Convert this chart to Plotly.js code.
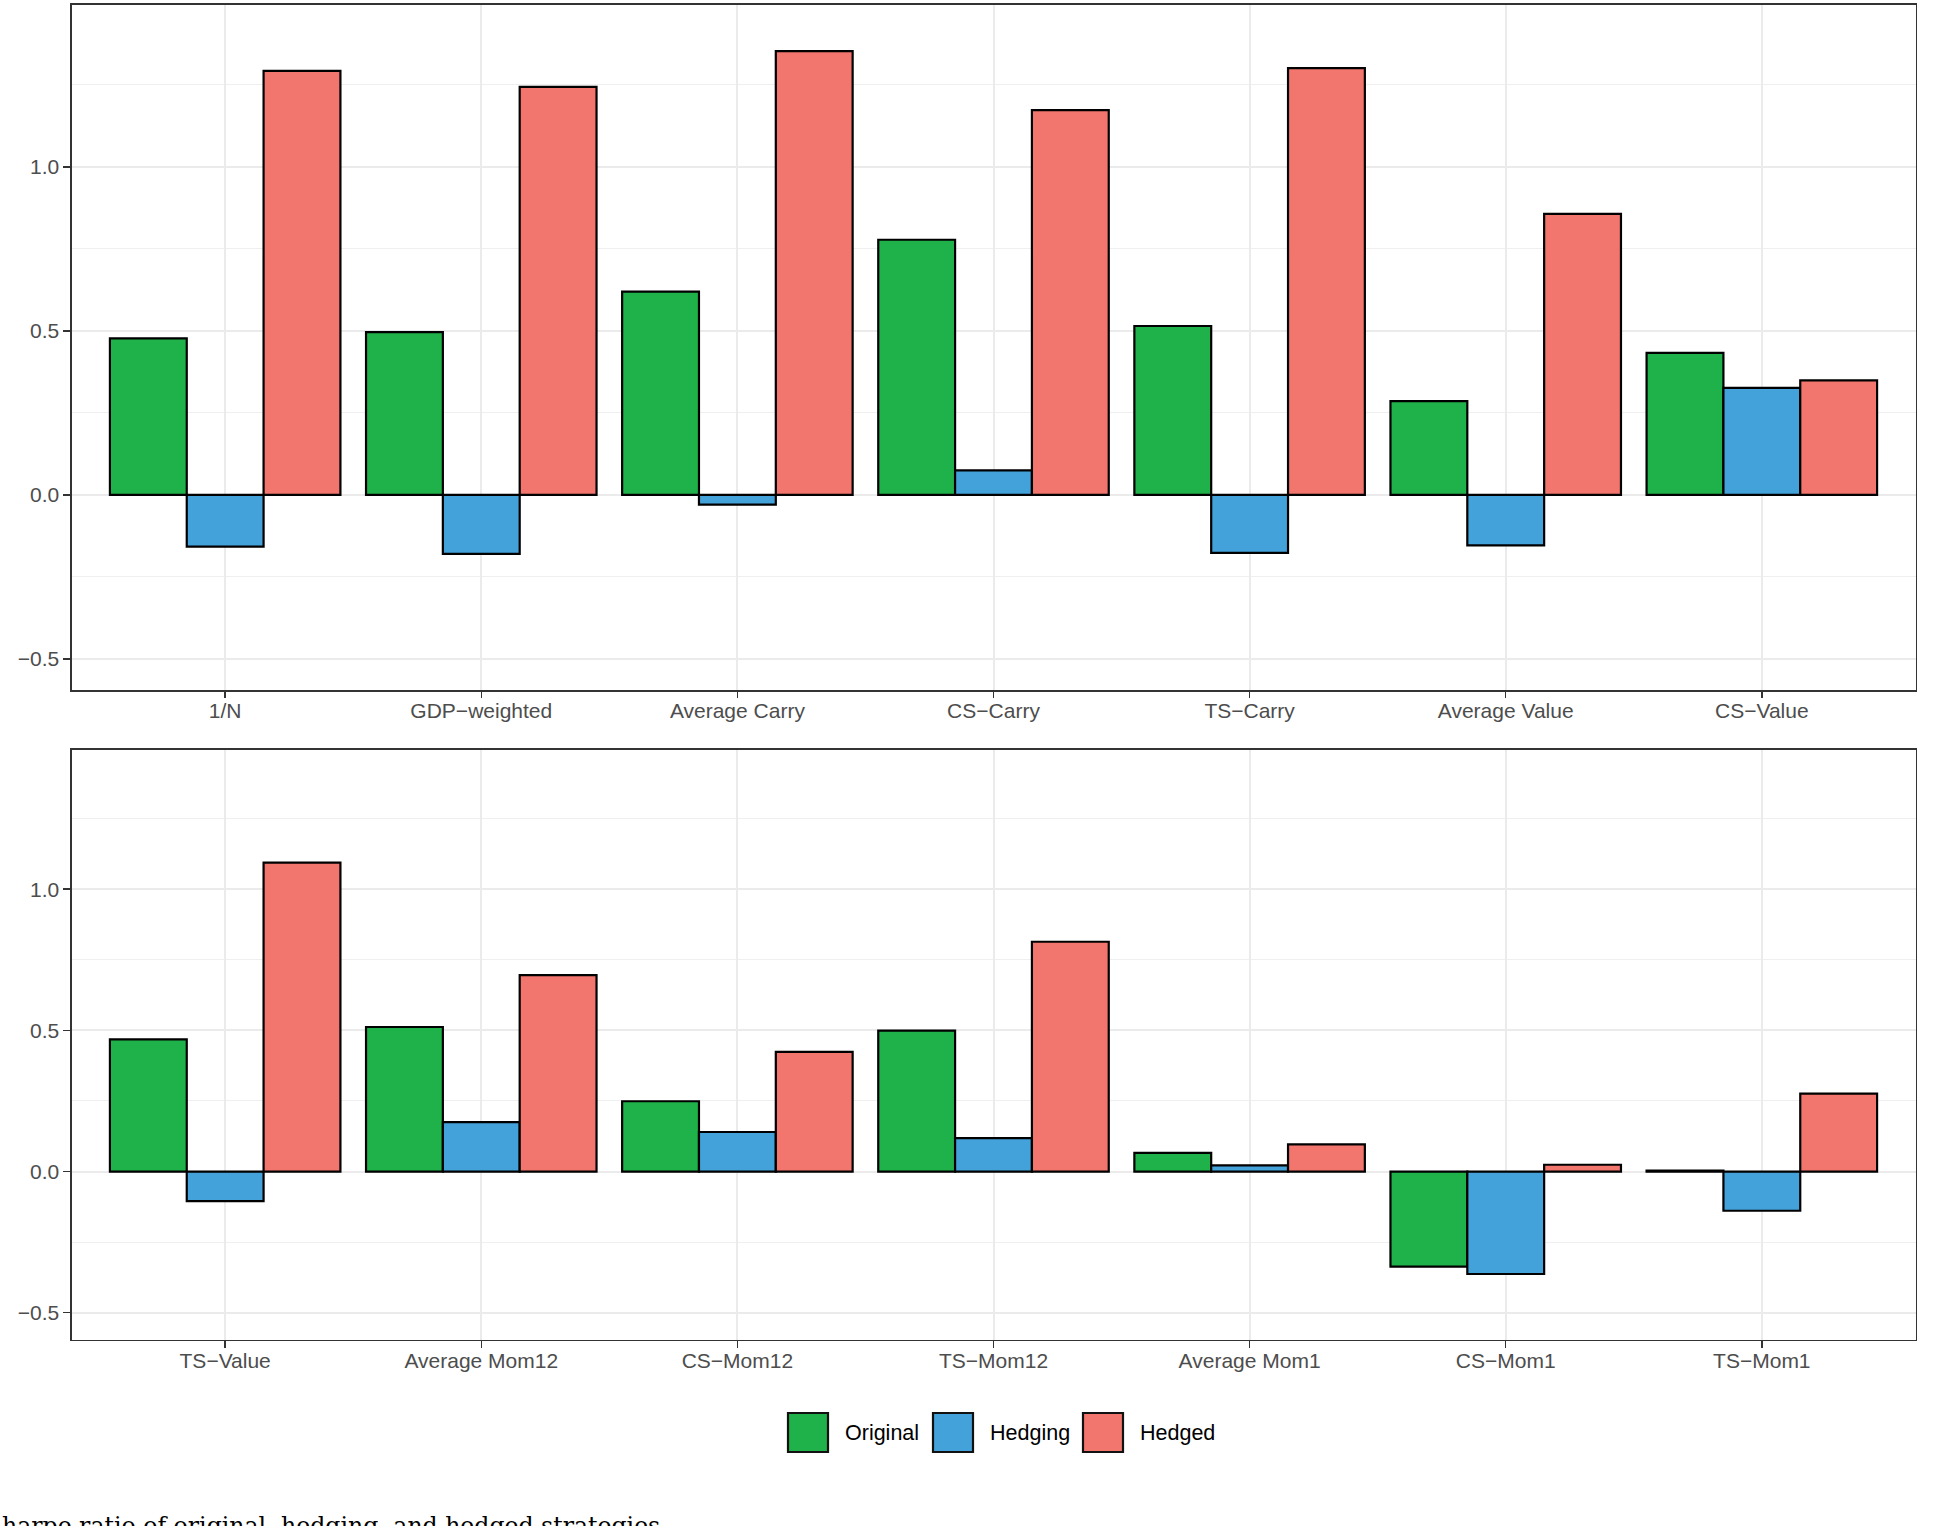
<!DOCTYPE html>
<html>
<head>
<meta charset="utf-8">
<script src="https://cdn.plot.ly/plotly-3.0.1.min.js"></script>
<style>
  html, body { margin: 0; padding: 0; background: #ffffff; overflow: hidden; }
  #chart { width: 1934px; height: 1526px; }
</style>
</head>
<body>
<div id="chart"></div>
<script>
// ---- data ----
const seriesNames = ["Original", "Hedging", "Hedged"];
const seriesColors = ["#20B24A", "#43A2DA", "#F2766E"];

const topCategories = ["1/N", "GDP\u2212weighted", "Average Carry", "CS\u2212Carry", "TS\u2212Carry", "Average Value", "CS\u2212Value"];
const topOriginal = [0.477, 0.496, 0.620, 0.778, 0.515, 0.286, 0.433];
const topHedging  = [-0.158, -0.180, -0.030, 0.075, -0.177, -0.154, 0.326];
const topHedged   = [1.293, 1.244, 1.353, 1.173, 1.301, 0.857, 0.349];

const bottomCategories = ["TS\u2212Value", "Average Mom12", "CS\u2212Mom12", "TS\u2212Mom12", "Average Mom1", "CS\u2212Mom1", "TS\u2212Mom1"];
const bottomOriginal = [0.468, 0.512, 0.249, 0.499, 0.066, -0.337, 0.003];
const bottomHedging  = [-0.105, 0.175, 0.140, 0.118, 0.022, -0.363, -0.139];
const bottomHedged   = [1.094, 0.696, 0.424, 0.814, 0.096, 0.024, 0.276];

const yTickVals = [-0.5, 0, 0.5, 1.0];
const caption = "harpe ratio of original, hedging, and hedged strategies.";

// ---- layout helpers ----
const W = 1934, H = 1526;
const px = v => v / W;
const py = v => 1 - v / H;

const fontSans = "Liberation Sans, Arial, Helvetica, sans-serif";

function makeBars(cats, vals, xa, ya) {
  return vals.map((v, i) => ({
    type: "bar",
    name: seriesNames[i],
    x: cats,
    y: v,
    xaxis: xa,
    yaxis: ya,
    showlegend: false,
    marker: { color: seriesColors[i], line: { color: "#000000", width: 2.2 } },
    hoverinfo: "x+y+name"
  }));
}

const data = [
  ...makeBars(topCategories, [topOriginal, topHedging, topHedged], "x", "y"),
  ...makeBars(bottomCategories, [bottomOriginal, bottomHedging, bottomHedged], "x2", "y2")
];

function xAxis(anchor, cats) {
  return {
    anchor: anchor,
    domain: [px(71.5), px(1915.5)],
    type: "category",
    categoryorder: "array",
    categoryarray: cats,
    range: [-0.6, cats.length - 0.4],
    showgrid: true, gridcolor: "#EBEBEB", gridwidth: 2,
    zeroline: false,
    showline: true, mirror: true, linecolor: "#333333", linewidth: 1.6,
    ticks: "outside", ticklen: 6.5, tickwidth: 1.5, tickcolor: "#333333",
    ticklabelstandoff: -5,
    tickfont: { family: fontSans, size: 21, color: "#4D4D4D" },
    automargin: false,
    fixedrange: true
  };
}

function yAxis(anchor, top, bottom) {
  return {
    anchor: anchor,
    domain: [py(bottom), py(top)],
    range: [-0.595, 1.495],
    tickmode: "array",
    tickvals: yTickVals,
    tickformat: ".1f",
    showgrid: true, gridcolor: "#EBEBEB", gridwidth: 2,
    minor: { dtick: 0.25, tick0: 0, showgrid: true, gridcolor: "#EFEFEF", gridwidth: 1, ticks: "" },
    zeroline: false,
    showline: true, mirror: true, linecolor: "#333333", linewidth: 1.6,
    ticks: "outside", ticklen: 6.5, tickwidth: 1.5, tickcolor: "#333333",
    tickfont: { family: fontSans, size: 21, color: "#4D4D4D" },
    automargin: false,
    fixedrange: true
  };
}

// legend drawn as layout shapes + annotations (ggplot-style large keys)
const legendKeyLeft = [788, 933, 1083];
const legendTextLeft = [843, 988, 1138];
const keyTop = 1413, keyBottom = 1452, keyW = 40;
const shapes = [];
const annotations = [];
seriesNames.forEach((n, i) => {
  shapes.push({
    type: "rect", xref: "paper", yref: "paper",
    x0: px(legendKeyLeft[i]), x1: px(legendKeyLeft[i] + keyW),
    y0: py(keyBottom), y1: py(keyTop),
    fillcolor: seriesColors[i],
    line: { color: "#111111", width: 2.2 }
  });
  annotations.push({
    xref: "paper", yref: "paper",
    x: px(legendTextLeft[i]), y: py((keyTop + keyBottom) / 2),
    xanchor: "left", yanchor: "middle",
    text: n, showarrow: false,
    font: { family: fontSans, size: 21.5, color: "#000000" }
  });
});
annotations.push({
  xref: "paper", yref: "paper",
  x: 0, y: py(1510),
  xanchor: "left", yanchor: "top",
  text: caption, showarrow: false,
  font: { family: "DejaVu Serif, Liberation Serif, serif", size: 23.6, color: "#000000" }
});

const layout = {
  width: W, height: H,
  margin: { l: 0, r: 0, t: 0, b: 0, pad: 0 },
  paper_bgcolor: "#ffffff",
  plot_bgcolor: "#ffffff",
  barmode: "group",
  bargap: 0.1,
  bargroupgap: 0,
  showlegend: false,
  xaxis: xAxis("y", topCategories),
  yaxis: yAxis("x", 4.6, 690),
  xaxis2: xAxis("y2", bottomCategories),
  yaxis2: yAxis("x2", 749.5, 1339.5),
  shapes: shapes,
  annotations: annotations
};

Plotly.newPlot("chart", data, layout, { displayModeBar: false, staticPlot: true });
</script>
</body>
</html>
